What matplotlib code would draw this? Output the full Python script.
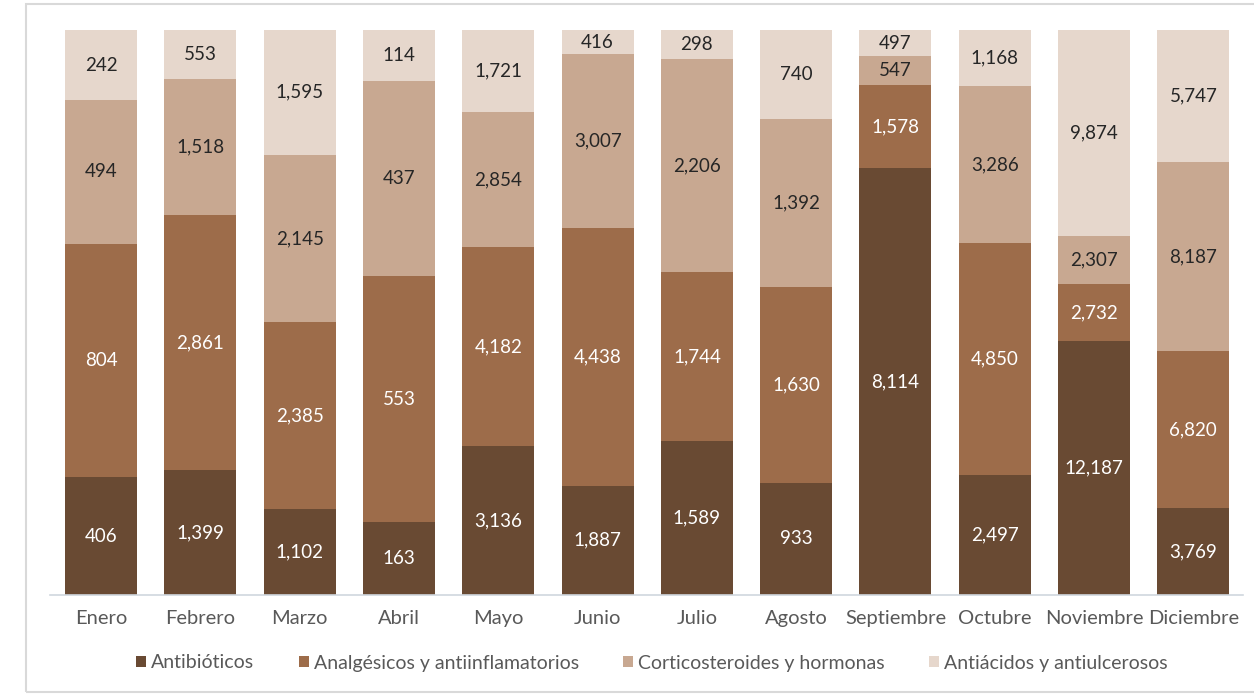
import matplotlib
matplotlib.use("Agg")
import matplotlib.pyplot as plt
from matplotlib.patches import Rectangle
import numpy as np

plt.rcParams['font.family'] = ['Lato', 'DejaVu Sans']

months = ["Enero", "Febrero", "Marzo", "Abril", "Mayo", "Junio", "Julio",
          "Agosto", "Septiembre", "Octubre", "Noviembre", "Diciembre"]
series_names = ["Antibióticos", "Analgésicos y antiinflamatorios",
                "Corticosteroides y hormonas", "Antiácidos y antiulcerosos"]
antibioticos = [406, 1399, 1102, 163, 3136, 1887, 1589, 933, 8114, 2497, 12187, 3769]
analgesicos = [804, 2861, 2385, 553, 4182, 4438, 1744, 1630, 1578, 4850, 2732, 6820]
corticosteroides = [494, 1518, 2145, 437, 2854, 3007, 2206, 1392, 547, 3286, 2307, 8187]
antiacidos = [242, 553, 1595, 114, 1721, 416, 298, 740, 497, 1168, 9874, 5747]

colors = ["#694a33", "#9d6c4a", "#c8a891", "#e6d7cc"]
text_colors = ["white", "white", "#262626", "#262626"]

data = np.array([antibioticos, analgesicos, corticosteroides, antiacidos], dtype=float)
totals = data.sum(axis=0)
shares = data / totals

fig = plt.figure(figsize=(12.54, 6.96), dpi=100)
fig.patches.append(Rectangle((26/1254, 4/696), 1.2, 688/696, transform=fig.transFigure,
                             fill=False, edgecolor="#d9d9d9", linewidth=1.5, zorder=0))
ax = fig.add_axes([50/1254, 101/696, (1243-50)/1254, (595-30)/696])

x = np.arange(len(months))
bottom = np.zeros(len(months))
handles = []
for i, name in enumerate(series_names):
    bars = ax.bar(x, shares[i], 0.725, bottom=bottom, color=colors[i], label=name)
    handles.append(bars)
    for j in range(len(months)):
        ax.text(x[j], bottom[j] + shares[i][j] / 2, f"{int(data[i][j]):,}",
                ha="center", va="center", fontsize=13.5, color=text_colors[i])
    bottom += shares[i]

ax.set_xlim(-0.515, 11.5)
ax.set_ylim(0, 1)
ax.set_yticks([])
for s in ["top", "right", "left"]:
    ax.spines[s].set_visible(False)
ax.spines["bottom"].set_color("#d0d7de")
ax.spines["bottom"].set_linewidth(1.2)
ax.set_xticks(x)
ax.set_xticklabels(months, fontsize=14.5, color="#595959")
ax.tick_params(axis="x", length=0, pad=11)

fig.legend(handles=handles, labels=series_names, loc="center",
           bbox_to_anchor=(652/1254, 1 - 663/696), ncol=4, frameon=False,
           fontsize=14, labelcolor="#595959", handlelength=0.5, handleheight=0.5,
           handletextpad=0.25, columnspacing=2.3)

fig.savefig("out.png", dpi=100)
